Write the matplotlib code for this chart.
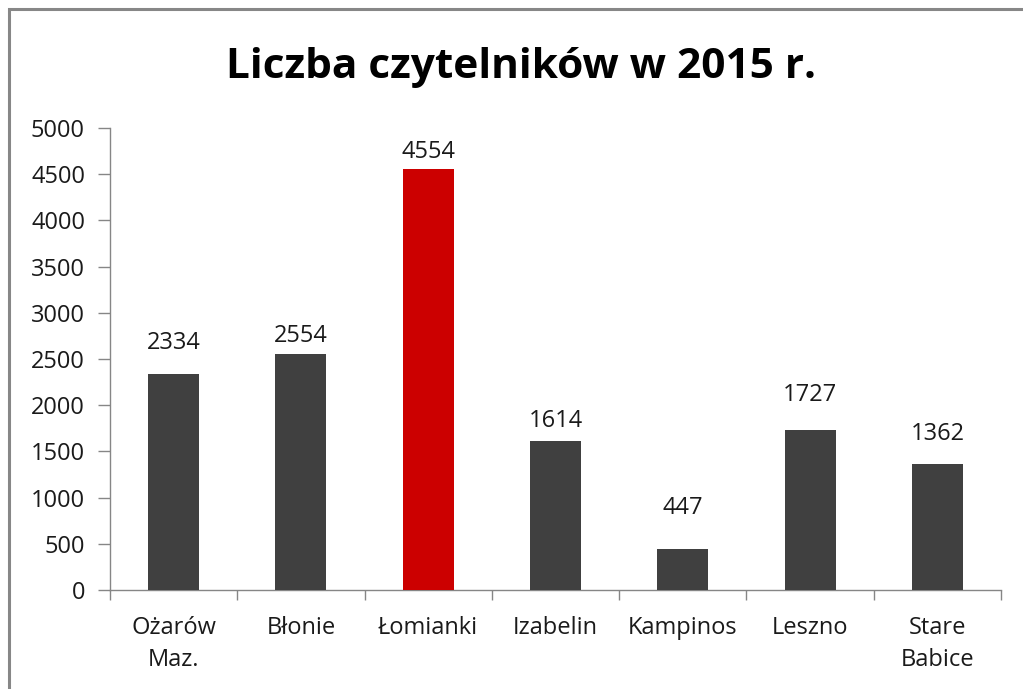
import numpy as np
import matplotlib.pyplot as plt
from matplotlib.patches import Rectangle

# dane
gminy = ["Ożarów\nMaz.", "Błonie", "Łomianki", "Izabelin", "Kampinos", "Leszno", "Stare\nBabice"]
czytelnicy = [2334, 2554, 4554, 1614, 447, 1727, 1362]
wyroznione = "Łomianki"

# odstęp etykiet nad słupkami (piksele) - jak w oryginale
odstep_etykiet = [31, 18, 17, 20, 41, 35, 30]

plt.rcParams['font.family'] = ['Open Sans', 'DejaVu Sans']

fig = plt.figure(figsize=(10.23, 6.89), dpi=100)
ax = fig.add_axes([110 / 1023, 1 - 590 / 689, 891 / 1023, 462 / 689])

x = np.arange(len(gminy))
kolory = ['#CC0000' if g == wyroznione else '#404040' for g in gminy]
ax.bar(x, czytelnicy, width=0.40, color=kolory, zorder=3)

for xi, v, d in zip(x, czytelnicy, odstep_etykiet):
    ax.annotate(str(v), (xi, v), xytext=(0, d), textcoords='offset pixels',
                ha='center', va='center', fontsize=17, color='#1a1a1a')

ax.set_xlim(-0.5, len(gminy) - 0.5)
ax.set_ylim(0, 5000)
ax.set_yticks(np.arange(0, 5001, 500))

# znaczniki osi X na granicach kategorii, podpisy w środku
ax.set_xticks(np.arange(-0.5, len(gminy), 1.0))
ax.set_xticklabels([])
ax.set_xticks(x, minor=True)
ax.set_xticklabels(gminy, minor=True, linespacing=1.4)
ax.tick_params(axis='x', which='major', length=7, color='#868686', width=1)
ax.tick_params(axis='x', which='minor', length=0, pad=19, labelsize=17, labelcolor='#1a1a1a')
ax.tick_params(axis='y', length=9, color='#868686', width=1, pad=9,
               labelsize=17, labelcolor='#1a1a1a')

for s in ['top', 'right']:
    ax.spines[s].set_visible(False)
for s in ['left', 'bottom']:
    ax.spines[s].set_color('#868686')
    ax.spines[s].set_linewidth(1)

fig.text(521 / 1023, 1 - 68 / 689, "Liczba czytelników w 2015 r.",
         ha='center', va='center', fontsize=30.5, fontweight='bold', color='black')

# ramka wykresu
fig.patches.append(Rectangle((9 / 1023, -0.1), 1.2, 1 - 9 / 689 + 0.1,
                             transform=fig.transFigure, fill=False,
                             edgecolor='#878787', linewidth=2.2))

fig.savefig("out.png", dpi=100)
